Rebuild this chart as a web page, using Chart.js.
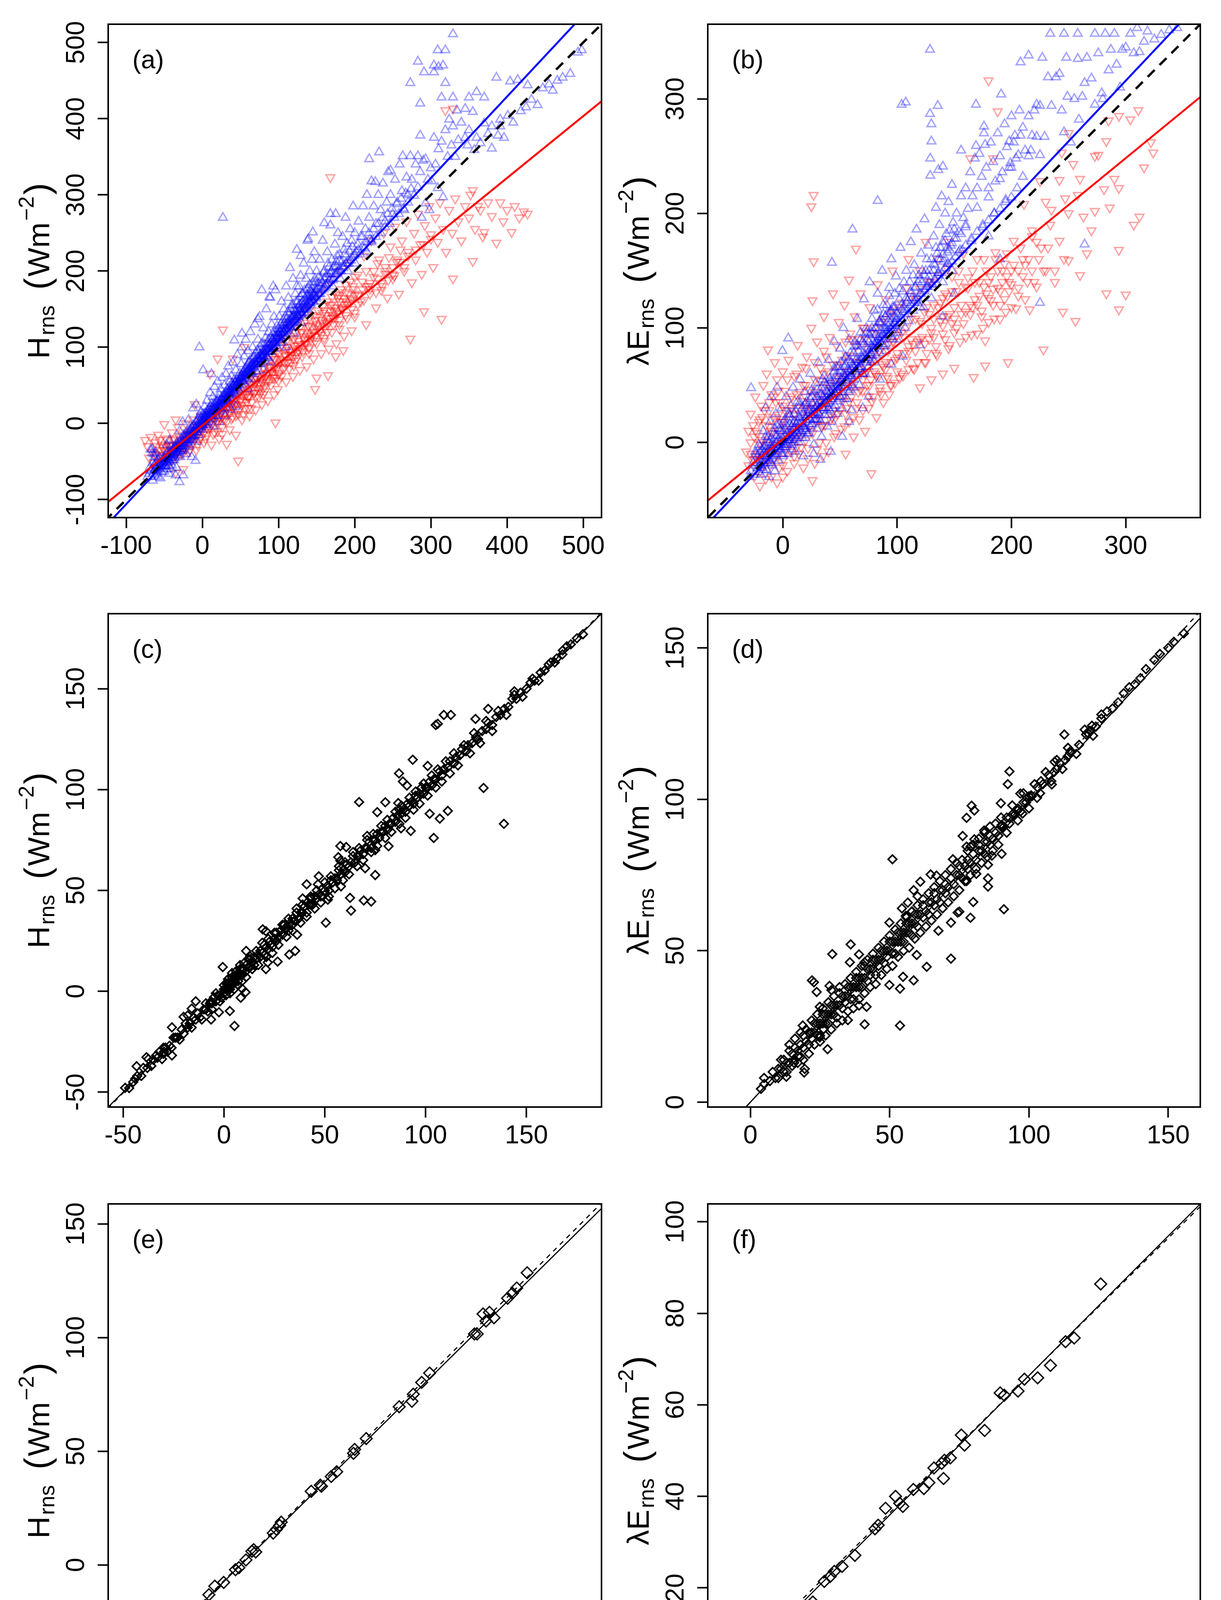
<!DOCTYPE html>
<html>
<head>
<meta charset="utf-8">
<script src="https://cdn.jsdelivr.net/npm/chart.js@4.4.0/dist/chart.umd.min.js"></script>
<style>
  body { margin: 0; background: #fff; }
  #page { position: relative; width: 3126px; height: 4604px; background: #fff; }
  canvas { position: absolute; }
</style>
</head>
<body>
<div id="page"></div>
<script>
// ---- data --------------------------------------------------------------

// (a) H, hourly: blue = up triangles, red = down triangles
const hRawBlue = [
  [-72,-70],[-68,-62],[-65,-75],[-63,-55],[-60,-66],[-58,-48],[-56,-60],[-55,-72],[-52,-52],[-50,-44],[-50,-63],[-48,-56],[-46,-38],[-45,-50],[-44,-66],[-42,-45],[-41,-30],[-40,-55],[-64,-40],[-61,-38],[-66,-34],[-43,-22],[-47,-28],
  [-38,-40],[-37,-48],[-35,-32],[-34,-58],[-33,-25],[-31,-38],[-30,-77],[-29,-44],[-28,-20],[-27,-30],[-25,-36],[-24,-15],[-22,-26],[-21,-40],[-20,-10],[-18,-22],[-17,-30],[-15,-8],[-14,-44],[-13,-18],[-12,-2],[-10,-12],[-9,-49],[-8,-24],[-7,4],[-6,-6],[-5,-15],[-4,10],[-3,-3],[-2,15],[-1,-8],[-30,-10],[-26,2],[-18,5],[-12,20],[-8,25],[-35,-68],[-68,-34],[-66,-39],[-63,-44],[-25,-68],
  [0,5],[1,-4],[2,12],[3,22],[4,0],[5,8],[6,30],[7,16],[8,-2],[9,20],[10,40],[11,12],[12,26],[13,6],[14,35],[15,18],[16,48],[17,25],[18,10],[19,30],[20,55],[21,22],[22,38],[23,16],[24,45],[25,30],[26,60],[27,35],[28,20],[29,50],[30,38],[31,65],[32,28],[33,45],[34,75],[35,40],[36,55],[37,32],[38,62],[39,48],[40,80],[41,42],[42,58],[43,38],[44,70],[45,50],[46,90],[47,55],[48,44],[49,66],[1,70],[-4,100],[12,65],[27,270],[38,18],[44,22],[30,10],[22,2],[15,-4],
  [50,60],[51,78],[52,100],[53,55],[54,68],[55,88],[56,62],[57,110],[58,72],[59,58],[60,95],[61,70],[62,82],[63,120],[64,66],[65,78],[66,100],[67,74],[68,88],[69,130],[70,80],[71,68],[72,96],[73,110],[74,84],[75,140],[76,90],[77,78],[78,105],[79,88],[80,125],[81,96],[82,82],[83,112],[84,150],[85,98],[86,86],[87,120],[88,104],[89,165],[90,94],[91,130],[92,110],[93,100],[94,140],[95,115],[96,175],[97,106],[98,128],[99,118],[93,180],[78,175],[88,166],[73,137],[52,118],[42,109],[60,45],[70,58],[80,70],[90,80],
  [100,112],[101,140],[102,120],[103,106],[104,160],[105,128],[106,115],[107,150],[108,132],[109,122],[110,180],[111,138],[112,126],[113,165],[114,144],[115,204],[116,130],[117,155],[118,140],[119,190],[120,150],[121,136],[122,170],[123,148],[124,228],[125,160],[126,142],[127,180],[128,156],[129,194],[130,145],[131,170],[132,160],[133,210],[134,175],[135,152],[136,190],[137,168],[138,240],[139,178],[140,160],[141,200],[142,175],[143,165],[144,215],[145,185],[146,170],[147,225],[148,190],[149,175],[145,251],[139,242],[129,220],[124,180],[110,100],[120,118],[130,132],
  [150,200],[152,178],[154,215],[156,188],[158,240],[160,200],[162,182],[164,225],[166,205],[168,260],[168,275],[170,215],[172,190],[174,235],[176,212],[178,250],[180,222],[182,200],[184,245],[186,228],[188,270],[190,236],[192,210],[194,255],[196,240],[198,285],[200,250],[175,275],[160,263],
  [202,225],[205,265],[208,245],[211,285],[214,255],[216,300],[219,270],[219,347],[222,240],[222,318],[225,285],[227,317],[228,262],[231,300],[232,356],[234,280],[237,315],[240,265],[242,290],[244,330],[247,300],[247,332],[250,275],[253,320],[256,290],[259,340],[262,305],[263,351],[265,280],[268,323],[270,300],[273,351],[275,320],[278,299],[280,340],[283,310],[283,351],[286,330],[288,270],[290,345],[293,289],[293,347],[296,320],[298,280],[300,335],
  [301,318],[304,375],[306,340],[309,309],[310,360],[314,370],[316,297],[319,385],[322,350],[324,399],[327,365],[329,390],[332,350],[334,411],[336,372],[340,395],[345,413],[345,375],[348,365],[350,385],[350,428],[355,409],[357,359],[360,375],[360,435],[365,368],[370,394],[370,428],[375,380],[380,390],[380,361],[386,454],[388,378],[391,399],[391,390],[396,375],[401,404],[404,449],[408,395],[414,451],[418,410],[425,415],[427,444],[432,425],[440,418],[447,440],[455,445],[460,437],[466,450],[473,454],[483,459],[493,487],[498,490],[286,420],[283,475],[273,447],[291,461],[304,461],[304,470],[310,468],[316,470],[309,490],[319,490],[329,511],[314,428],[319,447],[329,428],[286,378],
  [-70,-66],[-69,-58],[-67,-70],[-66,-60],[-65,-52],[-64,-64],[-62,-68],[-61,-58],[-60,-50],[-59,-62],[-58,-70],[-57,-55],[-56,-45],[-54,-58],[-53,-64],[-52,-46],[-51,-56],[-49,-50],[-48,-42],[-47,-60],[-46,-52],[-45,-44],[-44,-56],[-43,-38],[-42,-50],[-41,-60],[-40,-42],[-39,-48],[-38,-34],
  [-37,-40],[-36,-30],[-36,-45],[-34,-38],[-33,-28],[-32,-42],[-31,-32],[-30,-24],[-29,-36],[-28,-30],[-27,-22],[-26,-34],[-25,-26],[-24,-20],[-23,-30],[-22,-18],[-21,-25],[-20,-14],[-19,-28],[-18,-16],[-17,-8],[-16,-20],[-15,-14],[-14,-6],[-13,-22],[-12,-10],[-11,-4],[-10,-16],[-9,-6],[-8,2],[-7,-12],[-6,-2],[-5,6],[-4,-8],[-3,4],[-2,-4],[-1,8],[-1,-2],
  [0,12],[1,2],[2,6],[3,10],[4,14],[5,2],[6,12],[7,8],[8,18],[9,10],[10,16],[11,22],[12,14],[13,20],[14,10],[15,26],[16,16],[17,20],[18,28],[19,18],[20,24],[21,32],[22,22],[23,28],[24,20],[25,34],[26,26],[27,30],[28,38],[29,26],[30,32],[31,40],[32,34],[33,30],[34,42],[35,48],[36,36],[37,44],[38,40],[39,52],[40,44],[41,50],[42,40],[43,54],[44,48],[45,58],[46,46],[47,52],[48,60],[49,50],
  [50,54],[51,62],[52,58],[53,66],[54,56],[55,64],[56,72],[57,60],[58,68],[59,76],[60,64],[61,80],[62,70],[63,74],[64,84],[65,68],[66,78],[67,86],[68,74],[69,82],[70,92],[71,78],[72,86],[73,80],[74,94],[75,84],[76,100],[77,88],[78,84],[79,96],[80,90],[81,104],[82,92],[83,98],[84,88],[85,106],[86,96],[87,110],[88,98],[89,94],[90,112],[91,102],[92,118],[93,106],[94,98],[95,120],[96,108],[97,114],[98,102],[99,124],
  [100,116],[101,124],[102,110],[103,130],[104,118],[105,122],[106,136],[107,120],[108,128],[109,140],[110,124],[111,132],[112,146],[113,130],[114,136],[115,128],[116,150],[117,138],[118,132],[119,156],[120,142],[121,148],[122,134],[123,160],[124,146],[125,140],[126,154],[127,148],[128,166],[129,150],[130,158],[131,144],[132,170],[133,156],[134,150],[135,164],[136,160],[137,176],[138,154],[139,168],[140,162],[141,182],[142,158],[143,172],[144,166],[145,160],[146,180],[147,168],[148,186],[149,164],
  [151,176],[153,192],[155,170],[157,184],[159,198],[161,178],[163,192],[165,210],[167,188],[169,200],[171,180],[173,206],[175,196],[177,220],[179,200],[181,190],[183,212],[185,204],[187,222],[189,210],[191,200],[193,226],[195,214],[197,232],[199,220],[201,210],[204,235],[207,222],[210,245],[213,230],[216,225],[219,250],[222,238],[225,255],[228,245],[231,262],[234,250],[237,270],[240,258],[243,275],[246,262],[249,282],[252,270],[255,288],[258,275],[261,295],[264,282],[267,302],[270,290],[274,308],
  [-62,-60],[-58,-58],[-55,-54],[-52,-50],[-49,-47],[-46,-46],[-44,-48],[-42,-40],[-40,-36],[-38,-42],[-36,-38],[-34,-32],[-32,-36],[-30,-30],[-28,-26],[-26,-28],[-24,-24],[-22,-22],[-20,-18],[-18,-20],[-16,-14],[-14,-16],[-12,-12],[-10,-8],[-8,-10],[-6,-4],[-4,-6],[-2,0],[0,-2],[2,4],[4,2],[6,8],[8,6],[10,12],[12,10],[14,18],[16,14],[18,22],[20,18],[22,26],[24,24],[26,30],[28,28],[30,34],[32,32],[34,38],[36,40],[38,42],[40,46],[42,46],[44,50],[46,52],[48,54],[50,58],[52,56],[54,62],[56,60],[58,66],[60,68],[62,66],[64,72],[66,72],[68,76],[70,78],[72,78],[74,82],[76,84],[78,88],[80,88],[82,92],[84,94],[86,94],[88,100],[90,100],[92,104],[94,106],[96,104],[98,112],[100,110],
  [102,114],[104,112],[106,120],[108,118],[110,124],[112,122],[114,128],[116,126],[118,134],[120,132],[122,138],[124,136],[126,140],[128,144],[130,142],[132,150],[134,146],[136,152],[138,150],[140,158],[142,156],[144,162],[146,160],[148,168],[150,166],[153,170],[156,174],[159,176],[162,182],[165,184],[168,190],[171,188],[174,196],[177,198],[180,202],[184,206],[188,210],[192,214],[196,218],[200,222],[205,228],[210,232],[215,238],[220,242],
  [-60,-56],[-56,-52],[-52,-56],[-48,-48],[-44,-42],[-40,-44],[-36,-34],[-32,-30],[-28,-34],[-24,-18],[-20,-22],[-16,-10],[-12,-16],[-8,-4],[-4,-2],[0,4],[4,8],[8,14],[12,18],[16,20],[20,28],[24,30],[28,34],[32,40],[36,44],[40,50],[44,54],[48,56],[52,62],[56,66],[60,72],[64,76],[68,80],[72,84],[76,90],[80,94],[84,100],[88,104],[92,110],[96,114],[100,118],[104,124],[108,124],[112,132],[116,134],[120,140],[124,142],[128,150],[132,154],[136,156],[140,166],[144,170],[148,172],[152,184],[156,180],[160,190],[164,196],[168,196],[172,204],[176,206],[180,214]
];
const hRawRed = [
  [-75,-22],[-72,-30],[-70,-45],[-68,-18],[-66,-38],[-64,-52],[-62,-25],[-60,-42],[-58,-15],[-56,-35],[-55,-55],[-53,-28],[-51,-45],[-50,-1],[-48,-20],[-46,-40],[-44,-30],[-42,-52],[-40,-12],[-38,-35],[-36,-22],[-34,-45],[-32,-5],[-30,-28],[-28,-40],[-26,-15],[-24,-32],[-22,0],[-20,-22],[-18,-38],[-16,-10],[-14,-28],[-12,5],[-10,-15],[-8,-35],[-6,-5],[-4,-22],[-2,10],[0,-8],[2,-25],[-35,-65],[-25,-60],
  [4,5],[6,-15],[8,12],[10,-5],[12,-28],[14,8],[16,-12],[18,20],[20,0],[22,-20],[24,15],[26,-5],[27,123],[28,25],[30,5],[32,-27],[33,18],[35,35],[36,-8],[38,22],[40,8],[42,40],[44,-15],[45,25],[47,-49],[47,12],[48,50],[50,30],[52,5],[54,45],[56,20],[58,60],[60,35],[62,10],[64,52],[65,28],[67,70],[68,40],[70,18],[72,58],[74,35],[75,82],[77,50],[78,25],[80,65],[82,42],[84,95],[85,58],[86,30],[88,75],[90,50],[91,105],[92,66],[94,38],[95,85],[96,1],[97,60],[98,112],[99,45],[100,78],[20,85],[10,65],[40,85],[55,100],[-10,25],[-35,5],
  [102,92],[104,62],[106,118],[108,80],[110,55],[112,100],[114,72],[115,130],[117,90],[119,62],[120,110],[122,82],[124,140],[126,96],[128,70],[130,120],[131,88],[133,150],[135,105],[137,75],[139,128],[140,98],[142,160],[144,115],[146,85],[148,135],[150,105],[150,60],[152,170],[154,122],[156,92],[158,145],[160,112],[162,180],[164,130],[166,98],[168,155],[168,323],[170,120],[172,190],[174,140],[176,105],[178,165],[180,130],[182,200],[184,150],[186,115],[188,172],[190,138],[192,210],[194,158],[196,122],[198,180],[200,145],[165,63],[175,88],[185,96],[148,45],
  [204,195],[208,160],[212,220],[215,130],[218,180],[222,240],[225,200],[228,152],[232,215],[235,175],[238,250],[240,205],[243,165],[247,232],[250,190],[253,258],[256,215],[258,170],[262,240],[265,200],[268,265],[270,225],[273,111],[275,185],[278,250],[280,215],[283,275],[286,235],[288,196],[291,147],[292,260],[295,225],[298,285],[300,248],[303,205],[306,270],[309,238],[312,290],[314,137],[316,255],[319,411],[320,225],[324,280],[328,250],[329,190],[329,413],[332,295],[336,265],[340,240],[345,285],[350,270],[352,300],[355,306],[355,213],[358,255],[362,285],[365,280],[368,245],[370,251],[375,290],[380,272],[386,237],[391,290],[395,265],[400,280],[406,251],[410,285],[416,270],[422,278],[427,275],
  [-62,-40],[-60,-30],[-58,-50],[-56,-22],[-54,-42],[-52,-32],[-50,-52],[-48,-30],[-46,-22],[-44,-44],[-42,-28],[-40,-38],[-38,-20],[-36,-42],[-34,-28],[-32,-36],[-30,-18],[-28,-30],[-26,-40],[-24,-22],[-22,-34],[-20,-12],[-18,-26],[-16,-34],[-14,-16],[-12,-24],[-10,-4],[-8,-18],[-6,-28],[-4,-10],[-2,-18],[0,2],[2,-12],[4,-20],[6,4],[8,-8],[10,10],[12,-2],[14,-14],[16,14],[18,2],[20,-10],[22,18],[24,6],[26,-14],[28,12],[30,22],[32,2],[34,14],[36,28],[38,6],[40,20],[42,30],[44,10],[46,36],[48,18],[50,42],[52,24],[54,12],[56,38],[58,28],[60,50],[62,36],[64,20],[66,48],[68,58],[70,34],[72,46],[74,62],[76,40],[78,54],[80,72],[82,48],[84,64],[86,82],[88,56],[90,70],[92,88],[94,60],[96,76],[98,94],[100,66],
  [102,84],[104,102],[106,72],[108,90],[110,108],[112,80],[114,96],[116,114],[118,86],[120,102],[122,120],[124,92],[126,108],[128,126],[130,98],[132,114],[134,132],[136,104],[138,118],[140,138],[142,110],[144,126],[146,142],[148,114],[150,130],[152,148],[154,120],[156,136],[158,154],[160,126],[162,142],[164,160],[166,132],[168,148],[170,166],[172,138],[174,152],[176,170],[178,144],[180,160],[182,176],[184,150],[186,164],[188,182],[190,156],[192,170],[194,186],[196,162],[198,176],[200,192],[205,168],[210,186],[215,200],[220,176],[225,192],[230,210],[235,184],[240,200],[245,218],[250,196],[255,212],[260,228],[265,205],
  [-50,-36],[-46,-44],[-42,-34],[-38,-30],[-34,-38],[-30,-24],[-26,-30],[-22,-20],[-18,-14],[-14,-20],[-10,-10],[-6,-14],[-2,-6],[2,-2],[6,-6],[10,2],[14,6],[18,10],[22,8],[26,16],[30,14],[34,22],[38,26],[42,24],[46,32],[50,30],[54,40],[58,38],[62,46],[66,44],[70,54],[74,52],[78,60],[82,60],[86,66],[90,68],[94,74],[98,72],[102,80],[106,82],[110,88],[114,90],[118,94],[122,98],[126,102],[130,104],[134,110],[138,112],[142,116],[146,120],[150,124],[154,128],[158,132],[162,134],[166,138],[170,142],[174,146],[178,148],[182,152],[186,156],[190,160],[195,164],[200,168],[205,170],[210,176],[215,180],[220,184],[230,190],[240,196],[250,205],[260,212],[270,220],[280,228],[290,235],[300,242],[44,56],[56,64],[68,78],[80,90],[92,100],[104,112],[116,124],[128,136],[140,148],[60,20],[80,38],[100,56],[120,76],[140,92],[160,108],[180,124],[200,140],
  [20,4],[28,6],[36,14],[44,18],[52,28],[60,34],[68,40],[76,46],[84,54],[92,60],[100,64],[108,74],[116,80],[124,86],[132,94],[140,100],[148,108],[156,116],[164,120],[172,130],[180,136],[188,142],[196,150],[204,156],[212,162],[220,170],[228,172],[236,180],[244,188],[252,194],[30,26],[40,34],[50,44],[60,56],[70,62],[80,74],[90,84],[100,92],[110,100],[120,112],[130,120],[140,128],[150,140],[160,148],[170,156],[180,168]
];

// (b) LE, hourly
const leRawBlue = [
  [-28,-25],[-26,-18],[-25,-28],[-24,-10],[-22,-22],[-21,-2],[-20,-15],[-19,-28],[-18,-6],[-17,10],[-16,-18],[-15,-3],[-14,-24],[-13,5],[-12,-12],[-11,18],[-10,-5],[-9,-20],[-8,8],[-7,-10],[-6,25],[-5,0],[-4,-16],[-3,12],[-2,-6],[-1,30],[0,4],[0,-12],[1,18],[2,-4],[3,40],[4,8],[5,-10],[5,22],[6,2],[7,32],[8,-6],[8,14],[9,48],[10,6],[10,25],[11,-8],[12,16],[13,36],[14,0],[15,22],[15,55],[16,8],[17,30],[18,-12],[18,14],[19,44],[20,20],[20,4],[-27.7,47.6],[-15,30],[-10,40],[-5,48],[4.8,91],[-0.3,80],[-24,-8],[-29,-30],[-12,-30],[-7,-25],
  [21,36],[22,8],[23,28],[24,60],[25,16],[26,40],[27,-2],[28,24],[29,52],[30,32],[30,12],[31,70],[32,20],[33,42],[34,5],[35,30],[36,58],[37,24],[38,45],[39,14],[40,36],[40,72],[41,28],[42,52],[43,18],[44,40],[45,88],[45,62],[46,32],[47,48],[48,25],[49,66],[50,40],[50,82],[51,55],[52,30],[53,100],[54,48],[55,68],[56,38],[57,58],[58,90],[59,46],[60,70],[43,157],[27,-10],[33,-15],[42,-8],[52,5],[58,18],[60,28],
  [61,186],[62,55],[63,84],[64,62],[65,108],[66,72],[67,50],[68,90],[69,66],[70,78],[71,125],[72,60],[73,96],[74,74],[75,88],[76,140],[77,70],[78,100],[79,82],[80,115],[81,94],[82,76],[83,211],[83,130],[84,105],[85,88],[86,98],[87,150],[88,112],[89,84],[90,100],[91,120],[92,95],[93,135],[94,108],[95,160],[96,90],[97,118],[98,104],[99,145],[100,112],[101,96],[102,125],[103,170],[104,108],[105,132],[106,118],[107,100],[108,150],[109,124],[110,112],[75,40],[85,55],[95,68],[70,30],[105,75],
  [111,140],[112,175],[113,126],[114,115],[115,155],[116,135],[117,186],[118,122],[119,146],[120,130],[121,165],[122,140],[123,118],[124,195],[125,150],[126,136],[127,172],[128,145],[129,233],[129,248],[130,160],[130,263],[130,278],[131,138],[132,180],[133,155],[134,205],[135,165],[136,238],[136,148],[137,190],[138,170],[139,215],[140,241],[140,175],[141,158],[142,200],[143,182],[144,166],[145,210],[146,185],[147,172],[148,225],[149,192],[150,178],[152,200],[154,184],[156,255],[156,215],[158,196],[160,222],[128.8,287],[135.6,294],[104,295],[107.5,297],[128.8,343],[120,85],[140,110],[150,130],
  [162,204],[164,236],[166,215],[168,248],[169,259],[169,295],[170,222],[172,252],[174,232],[176,270],[176,276],[177,260],[178,240],[180,214],[182,262],[184,245],[186,228],[188,270],[190,250],[191,304],[192,236],[194,278],[196,258],[198,240],[198,263],[199,244],[200,285],[202,262],[203,268],[204,248],[206,251],[207,290],[208,268],[208,332],[210,275],[212,255],[215,338],[215,285],[217,255],[218,268],[220,290],[222,295],[222,267],[225,294],[225,251],[227,336],[229,267],[232,319],[234,357],[235,294],[239,319],[242,322],[244,290],[246,271],[246,357],[248,336],[249,302],[252,262],[225,122],[190,160],[180,180],
  [255,300],[258,335],[258,357],[259,282],[262,302],[264,314],[266,336],[270,318],[273,295],[273,357],[276,340],[279,305],[282,357],[285,325],[287,343],[290,357],[292,330],[297,343],[300,345],[304,357],[307,340],[310,362],[312,341],[316,350],[319,359],[325,352],[331,356],[338,360],[345,362],[264,173],[280,300],[295,310],
  [-22,-18],[-21,-26],[-20,-8],[-19,-20],[-18,-12],[-17,-24],[-16,-4],[-15,-14],[-14,-6],[-13,-18],[-12,0],[-11,-10],[-10,4],[-9,-14],[-8,-2],[-7,12],[-6,-8],[-5,6],[-4,-4],[-3,16],[-2,2],[-1,-10],[0,10],[1,0],[2,20],[3,-2],[4,14],[5,4],[6,24],[7,6],[8,-2],[9,16],[10,2],[11,28],[12,8],[13,18],[14,6],[15,32],[16,16],[17,4],[18,24],[19,12],[20,34],[21,18],[22,28],[23,8],[24,38],[25,24],[26,16],[27,44],[28,30],[29,20],[30,46],[31,26],[32,36],[33,18],[34,48],[35,40],[36,28],[37,52],[38,34],[39,44],[40,24],[41,56],[42,38],[43,48],[44,30],[45,54],[46,42],[47,66],[48,36],[49,58],[50,46],
  [51,70],[52,44],[53,60],[54,38],[55,74],[56,52],[57,64],[58,44],[59,78],[60,56],[61,68],[62,48],[63,88],[64,72],[65,58],[66,80],[67,64],[68,96],[69,74],[70,60],[71,86],[72,70],[73,100],[74,82],[75,66],[76,94],[77,78],[78,108],[79,88],[80,72],[81,100],[82,86],[83,116],[84,92],[85,78],[86,108],[87,94],[88,120],[89,100],[90,86],[91,112],[92,102],[93,128],[94,104],[95,92],[96,118],[97,110],[98,130],[99,108],[100,98],
  [102,134],[104,116],[106,140],[108,122],[110,106],[112,130],[114,146],[116,124],[118,140],[120,118],[122,150],[124,134],[126,160],[128,140],[130,126],[132,150],[134,170],[136,148],[138,160],[140,140],[142,176],[144,156],[146,168],[148,150],[150,186],[155,168],[160,190],[165,176],[170,205],[175,190],[180,222],[185,200],[190,230],[195,212],[200,240],[205,222],[210,232],[215,250],
  [-20,-20],[-18,-16],[-16,-12],[-14,-10],[-12,-6],[-10,-8],[-8,-4],[-6,0],[-4,2],[-2,-2],[0,0],[2,6],[4,2],[6,8],[8,10],[10,12],[12,10],[14,16],[16,18],[18,14],[20,22],[22,24],[24,20],[26,28],[28,26],[30,32],[32,30],[34,36],[36,34],[38,40],[40,42],[42,44],[44,46],[46,48],[48,50],[50,52],[52,56],[54,58],[56,60],[58,62],[60,64],[62,66],[64,68],[66,70],[68,72],[70,74],[72,76],[74,78],[76,80],[78,84],[80,86],[82,88],[84,90],[86,92],[88,94],[90,96],[92,98],[94,100],[96,102],[98,104],[100,108],
  [103,110],[106,114],[109,116],[112,120],[115,122],[118,126],[121,130],[124,132],[127,136],[130,138],[133,142],[136,146],[139,148],[142,152],[145,156],[148,158],[151,162],[154,166],[157,168],[160,172],[165,178],[170,184],[175,188],[180,194],[185,200],[190,204],[195,210],[200,214],[-15,5],[-5,15],[5,25],[15,35],[25,45],[35,55],[45,65],[55,75],[65,85],[75,95],[85,105],[95,115],[-10,-18],[0,-10],[10,0],[20,10],[30,20],[40,30],[50,40],[60,50],[70,60],[80,70],[90,80],[100,90],
  [-24,-20],[-22,-12],[-20,-4],[-18,-22],[-16,-8],[-14,2],[-12,-16],[-10,-2],[-8,-12],[-6,6],[-4,-6],[-2,10],[0,-4],[2,12],[4,-2],[6,16],[8,2],[10,18],[12,4],[14,22],[16,10],[18,26],[20,12],[22,32],[24,14],[26,34],[28,20],[30,40],[32,24],[34,42],[36,30],[38,50],[40,34],[42,54],[44,38],[46,58],[48,44],[50,62],[52,48],[54,66],[56,54],[58,72],[60,58],[62,78],[64,60],[66,84],[68,66],[70,88],[72,72],[74,90],[76,76],[78,96],[80,82],[82,100],[84,86],[86,104],[88,90],[90,110],[92,94],[94,114],[96,100],[98,118],[100,102],[104,120],[108,126],[112,132],[116,136],[120,142],[124,146],[128,150],[132,156],[136,160],[140,164],[144,170],[148,174],[152,178],[156,182],[160,188]
];
const leRawRed = [
  [-32,-8],[-30,10],[-28,25],[-27,-15],[-25,5],[-24,40],[-22,-10],[-21,18],[-20,-25],[-19,32],[-18,2],[-17,50],[-16,-12],[-15,15],[-14,60],[-13,81],[-13,-2],[-12,28],[-11,-20],[-10,42],[-9,8],[-8,-15],[-7,70],[-7,22],[-6,-5],[-5,55],[-4,10],[-3,-22],[-2,35],[-1,0],[0,62],[0,18],[1,-14],[2,45],[3,6],[4,-25],[4,28],[5,72],[6,12],[7,-8],[8,40],[9,20],[10,-18],[10,58],[11,4],[12,30],[13,85],[14,-10],[15,44],[16,12],[17,66],[18,-22],[19,28],[20,50],[20,2],[-25,-30],[-20,-38],[-15,-32],[-10,-30],[-5,-35],[0,-30],
  [21,75],[22,-5],[23,35],[24,15],[25,206],[25,100],[26,124],[26,-33],[27,216],[27,158],[28,55],[28,-18],[29,20],[30,88],[31,40],[32,0],[33,65],[34,28],[35,-12],[36,110],[36,48],[37,15],[38,75],[39,35],[40,-8],[41,92],[42,52],[43,22],[44,130],[44,68],[45,5],[46,40],[47,85],[48,25],[49,105],[50,58],[51,12],[52,72],[53,40],[54,120],[55,-10],[55,88],[56,30],[57,62],[58,142],[58,18],[59,95],[60,48],[61,75],[62,5],[63,110],[64,169],[64,60],[65,35],[66,90],[67,20],[68,130],[69,70],[70,45],
  [71,100],[72,10],[73,62],[74,82],[75,30],[76,118],[77,55],[77.5,-27],[78,72],[79,40],[80,95],[81,60],[82,22],[83,138],[84,80],[85,48],[86,105],[87,68],[88,35],[89,90],[90,125],[91,58],[92,80],[93,42],[94,112],[95,70],[96,150],[97,88],[98,52],[99,100],[100,74],[102,118],[104,60],[106,92],[108,135],[110,80],[112,108],[114,65],[116,125],[118,88],[120,150],[122,104],[124,70],[126,118],[128,90],[130,140],[132,108],[134,78],[136,160],[138,122],[140,95],[142,130],[144,110],[146,85],[148,145],[150,118],[150,65],[140,60],[130,55],[120,48],[125,175],[110,160],[145,175],
  [152,100],[154,140],[156,120],[158,165],[160,92],[162,135],[164,248],[164,112],[166,150],[167,57],[168,125],[170,95],[172,140],[174,115],[176,160],[177,89],[177,67],[178,130],[180,316],[180,105],[182,145],[184,248],[184,120],[186,160],[188,289],[188,135],[190,108],[192,150],[194,125],[196,165],[197,70],[198,140],[200,118],[202,155],[204,117],[206,135],[208,170],[210,145],[211,208],[212,125],[215,160],[216,116],[218,185],[220,140],[222,175],[225,228],[228,81],[228,150],[230,210],[232,170],[235,203],[238,150],[242,229],[244,253],[245,114],[247,213],[250,159],[254,243],[256,106],[258,216],[260,146],[263,197],[266,165],[270,185],[273,202],[276,251],[281,221],[283,263],[283,130],[285,281],[286,205],[290,230],[294,222],[294,168],[294,116],[294,285],[300,129],[304,282],[307,190],[311,290],[312,197],[316,240],[322,262],[324,253],[273,250],[250,270],[260,230],
  [-30,-20],[-28,0],[-26,15],[-24,-12],[-22,8],[-20,-2],[-18,22],[-16,-20],[-14,5],[-12,-8],[-10,20],[-8,-2],[-6,35],[-4,-12],[-2,18],[0,-20],[2,28],[4,-6],[6,38],[8,4],[10,-12],[12,42],[14,14],[16,-4],[18,50],[20,22],[22,-14],[24,46],[26,8],[28,30],[30,-6],[32,54],[34,14],[36,36],[38,0],[40,62],[42,20],[44,44],[46,8],[48,68],[50,28],[52,50],[54,14],[56,76],[58,36],[60,58],[62,22],[64,84],[66,44],[68,64],[70,28],[72,90],[74,50],[76,72],[78,36],[80,100],[82,58],[84,80],[86,42],[88,108],[90,64],[92,86],[94,50],[96,115],[98,72],[100,94],
  [102,56],[104,122],[106,78],[108,100],[110,64],[112,128],[114,86],[116,108],[118,70],[120,134],[122,92],[124,114],[126,78],[128,140],[130,100],[132,120],[134,84],[136,146],[138,106],[140,126],[142,90],[144,152],[146,112],[148,132],[150,96],[154,150],[158,104],[162,144],[166,118],[170,160],[174,110],[178,150],[182,124],[186,166],[190,120],[194,156],[198,132],[202,176],[206,128],[210,160],[214,140],[218,180],[222,136],[226,170],[230,150],[234,190],[238,140],[242,176],[246,160],[250,200],
  [-25,-15],[-20,0],[-15,-15],[-10,10],[-5,-5],[0,20],[5,0],[10,25],[15,5],[20,30],[25,10],[30,35],[35,15],[40,40],[45,20],[50,45],[55,25],[60,50],[65,30],[70,55],[75,40],[80,62],[85,45],[90,70],[95,50],[100,78],[105,58],[110,84],[115,64],[120,90],[125,70],[130,96],[135,76],[140,102],[145,82],[150,108],[155,88],[160,114],[165,94],[170,120],[175,100],[180,126],[185,108],[190,132],[195,114],[200,138],[-20,20],[-12,35],[-4,45],[4,55],[12,60],[20,65],[28,70],[36,80],[60,90],[70,100],
  [-28,-10],[-24,10],[-20,-14],[-16,28],[-12,14],[-8,40],[-4,24],[0,32],[4,10],[8,30],[12,-4],[16,36],[20,40],[24,30],[28,44],[32,20],[36,60],[40,50],[44,28],[48,56],[52,36],[56,62],[60,40],[64,70],[68,46],[72,60],[76,50],[80,80],[84,58],[88,66],[92,56],[96,88],[100,62],[104,96],[108,72],[112,90],[116,80],[120,106],[124,86],[128,112],[132,92],[136,118],[140,110],[144,128],[148,104],[152,132],[156,112],[160,136],[164,120],[168,140],[172,128],[176,136],[180,140],[184,134],[188,150],[192,140],[196,145],[200,150],[206,150],[212,155],[218,150],[224,160]
];

// (c) H, daily
const hDaily = [
  [-47,-48],[-45,-45],[-43,-42],[-41,-42],[-40,-38],[-38,-38],[-36,-37],[-35,-34],[-33,-33],[-32,-30],[-30,-31],[-29,-28],[-27,-27],[-26,-28],[-24,-23],[-23,-23],[-21,-19],[-20,-21],[-18,-18],[-17,-16],[-16,-18],[-14,-14],[-13,-11],[-12,-13],[-10,-9],[-9,-9],[-8,-10],[-7,-6],[-6,-6],[-5,-3],[-4,-5],[-3,-2],[-2,-2],[-1,-3],[0,1],[0,-1],[1,4],[1,1],[2,1],[2,4],[3,4],[3,1],[4,4],[4,7],[5,6],[5,4],[6,8],[6,6],[7,5],[7,8],[8,11],[8,8],[9,8],[9,11],[10,11],[11,10],[11,13],[12,12],[13,16],[13,12],[14,15],[15,13],[15,17],[16,16],[17,18],[18,17],[18,20],[19,19],[20,23],[20,18],[21,22],[22,21],[23,25],[23,23],[24,22],[25,26],[26,29],[26,25],[27,27],[28,30],[29,28],[30,31],[30,33],[31,31],[32,30],[33,34],[34,36],[34,33],[35,35],[36,39],[37,36],[38,39],[39,39],[40,42],[41,39],[42,43],[43,46],[43,43],[44,43],[45,47],[46,46],[47,48],[48,47],[49,51],[50,50],[51,52],[52,50],[53,55],[54,54],[55,56],[56,55],[57,60],[58,58],[59,60],[60,59],[61,63],[62,62],[63,64],[64,67],[65,64],[66,67],[67,67],[68,70],[69,68],[70,71],[71,71],[72,74],[73,71],[74,75],[75,75],[76,78],[77,76],[78,79],[79,79],[80,82],[81,80],[82,83],[83,83],[84,86],[85,84],[86,87],[87,90],[88,88],[89,90],[90,89],[91,93],[92,92],[93,94],[94,93],[95,97],[96,96],[97,98],[98,101],[99,98],[100,101],[101,101],[102,104],[103,102],[104,105],[105,105],[107,109],[108,107],[109,110],[111,111],[112,114],[114,113],[115,116],[117,117],[118,120],[120,119],[121,122],[123,123],[125,126],[126,125],[128,129],[130,130],[131,133],[133,132],[135,136],[137,137],[139,140],[141,141],[143,145],[145,145],[147,148],[150,150],[152,153],[154,154],[157,158],[159,159],[162,163],[165,165],[168,169],[172,172],
  [-30,-28],[-28,-30],[-25,-23],[-22,-24],[-19,-16],[-15,-13],[-11,-14],[-9,-6],[-6,-9],[-4,-1],[-2,-5],[0,3],[1,-2],[2,6],[3,-1],[4,9],[5,1],[6,10],[7,3],[8,13],[9,5],[10,14],[11,7],[12,16],[14,11],[16,20],[17,13],[19,24],[21,17],[22,26],[24,19],[25,29],[27,23],[29,33],[31,27],[32,36],[34,30],[36,41],[38,34],[39,43],[41,37],[43,47],[45,41],[46,50],[48,44],[50,54],[52,47],[53,57],[55,51],[57,62],[59,55],[60,64],[62,58],[64,69],[66,62],[67,71],[69,65],[71,75],[73,69],[74,78],[76,72],[78,82],[80,76],[81,85],[83,79],[85,89],[87,83],[88,92],[90,86],[92,96],[94,90],[95,99],[97,93],[99,103],[101,97],[103,107],[105,101],[106,110],[108,104],[110,114],[112,108],[114,118],[116,112],[119,122],[122,118],[124,128],[127,123],[130,134],[133,129],[136,139],[140,137],[144,147],[148,146],[153,155],[156,154],[161,162],[164,163],[170,171],[175,175],
  [178,177],[167.8,167],[144,148.7],[131,140],[109,137],[112.5,137],[105,132],[106,132.6],[124.7,135],[128.7,100.8],[138.8,83],[111,89.4],[104,76],[107,85.6],[102,88],[93.6,114.8],[101,111.7],[86.8,108],[88.7,104],[90.7,102],[86.4,93.3],[80,93.7],[67,93.8],[76,88.8],[92.6,79.5],[87.8,80.8],[81.6,71.9],[75,70],[71,77],[70,61],[75,57.6],[69.3,45],[73,44.5],[62.5,46.3],[63,40],[57.7,72],[60.6,71.5],[56.7,66.5],[57.7,64.7],[47,57],[41,53],[46.6,53],[51.5,45.4],[50.5,34],[58,52],[39,46],[32.4,18.2],[35.3,20],[36.3,28],[26,25],[20.8,29.8],[26.6,14.7],[21.7,14.3],[20.8,11],[19.2,30.7],[11,20],[13,17.3],[9,1.3],[10.7,-0.5],[8.3,-3.2],[-0.6,12],[-2.5,-10.4],[2.9,-9.8],[-6.4,-14],[5.2,-17.2],[-6.4,-5],[-14,-5],[-16,-8.6],[-18,-12],[-20,-12.7],[-25.8,-17.9],[-25.8,-31.8],[-29.7,-30],[-30.7,-33.6],[-37.5,-33.6],[-38.4,-32.7],[-43.3,-37.2],[-49,-47.9],[-44,-43.4],[-33.6,-31.8]
];

// (d) LE, daily
const leDaily = [
  [5,6],[7,7],[8,10],[9,8],[10,11],[11,11],[12,10],[12,14],[13,13],[14,13],[14,17],[15,16],[16,14],[16,18],[17,17],[18,15],[18,19],[19,22],[19,18],[20,20],[21,23],[21,19],[22,23],[22,21],[23,26],[23,23],[24,22],[24,26],[25,26],[25,22],[26,26],[26,29],[27,26],[27,29],[28,29],[28,26],[29,29],[29,32],[30,29],[30,32],[31,32],[31,28],[32,32],[32,36],[33,31],[33,35],[34,35],[34,33],[35,38],[35,35],[36,34],[36,38],[37,38],[37,34],[38,38],[38,41],[39,38],[39,41],[40,41],[40,38],[41,41],[41,45],[42,40],[42,44],[43,44],[43,42],[44,47],[44,44],[45,42],[45,47],[46,47],[46,45],[47,47],[47,50],[48,46],[48,50],[49,50],[49,48],[50,50],[50,53],[51,49],[51,53],[52,53],[52,49],[53,53],[53,56],[54,53],[54,56],[55,56],[55,53],[56,56],[56,59],[57,56],[57,59],[58,59],[58,55],[59,59],[59,62],[60,58],[60,62],[61,62],[62,61],[62,65],[63,63],[64,66],[64,62],[65,66],[66,65],[66,69],[67,67],[68,70],[68,66],[69,70],[70,69],[70,72],[71,71],[72,74],[73,72],[74,75],[75,75],[75,78],[76,74],[77,78],[78,77],[78,80],[79,79],[80,82],[81,80],[82,83],[82,85],[83,83],[84,82],[84,86],[85,86],[86,85],[86,88],[87,87],[88,89],[89,88],[90,91],[91,91],[92,94],[93,92],[94,95],[95,95],[96,97],[97,96],[98,99],[99,99],[100,101],[101,101],[103,104],[105,105],[107,108],[109,109],[111,112],[113,113],[115,116],[118,118],[121,122],[124,124],[128,129],[132,132],[136,137],[140,140],[145,146],[150,150],
  [10,8],[11,14],[13,10],[14,19],[15,12],[16,21],[17,13],[18,23],[19,14],[20,24],[21,16],[22,27],[23,19],[24,29],[25,20],[26,31],[27,22],[28,33],[29,24],[30,35],[31,26],[32,38],[33,27],[34,39],[35,30],[36,41],[37,31],[38,43],[39,34],[40,45],[41,36],[42,47],[43,38],[44,49],[45,39],[46,51],[47,42],[48,53],[49,44],[50,55],[51,45],[52,57],[53,48],[54,59],[55,50],[56,61],[57,51],[58,63],[59,54],[60,65],[61,56],[62,67],[63,58],[64,69],[65,60],[66,71],[67,62],[68,73],[69,64],[70,75],[71,66],[72,77],[73,68],[74,79],[75,70],[76,80],[77,73],[78,83],[79,75],[80,85],[81,77],[82,87],[83,79],[84,89],[85,81],[86,91],[87,83],[88,92],[89,85],[90,94],[92,89],[94,98],[96,93],[98,102],[100,97],[102,105],[104,102],[106,109],[108,106],[110,113],[112,110],[114,117],[117,115],[120,123],[123,121],[126,128],[130,130],[134,135],[138,138],[142,143],[147,148],[152,152],
  [155.6,154.8],[126,126.7],[122.6,124.3],[120.5,121.4],[121.9,122.6],[112.7,121.4],[114.8,115.4],[113.9,114.2],[109.2,112.4],[109.9,110],[108.2,104.9],[104.3,106],[102.9,100.5],[99.4,100.5],[100.8,101.3],[96.9,101.9],[93,109.2],[92.4,105],[89.9,98.7],[97.7,95.3],[95.9,96.3],[93,93.9],[90.2,91.5],[79.4,97.9],[80.4,96.3],[77.6,93.9],[83.9,89.7],[80.4,86.8],[79,84.4],[72.7,80.2],[76.2,87.9],[77.6,84.4],[85.3,78.4],[86.7,81.4],[90.2,82],[85.3,73.9],[85.3,71.2],[81.1,75.4],[77.6,73],[91,63.7],[80,66.1],[75,62.9],[74.4,62.6],[72,59.3],[79,60.9],[72,47.4],[63.3,44.7],[67.5,56.6],[61,72.8],[66.8,74.8],[64.7,75.2],[58.6,70],[60,68],[51,80.2],[56.5,65.9],[57.9,62.9],[54.4,64],[55.8,61.5],[49.9,59.3],[50.9,49.2],[59.7,48.6],[54.8,41.4],[53.7,37.5],[58.6,40.2],[49.9,38.7],[53.7,25.3],[41,25.7],[41.7,31.5],[39,31.9],[35,27.1],[36,52.1],[29.4,48.9],[35.7,46.2],[39,48.8],[41,46.2],[28.4,38.4],[29.1,37],[22.1,40.2],[22.8,39.6],[23.8,36.4],[24.9,31.5],[27.7,17.5],[18.8,25.3],[21.4,22.7],[19.5,11],[19.3,9.8],[12.9,8.4],[4.9,8],[3.8,4.4],[15.7,13],[17.1,15.2],[26.3,24.1],[24.9,21.4]
];

// (e) H, monthly
const hMonthly = [
  [-20.8,-23.6],[-13.9,-13.1],[-11.3,-9.3],[-7.4,-7.7],[-2.2,-2.1],[-0.7,-1.2],[2.4,2.2],[5.0,6.0],[5.8,6.7],[6.7,5.7],[14.4,14.0],[15.8,15.7],[17.2,17.4],[17.9,18.8],[31.1,32.4],[35.1,35.1],[35.6,34.6],[39.9,38.9],[42.3,41.0],[49.7,49.1],[50.2,50.8],[55.3,55.6],[69.8,69.6],[75.4,72.0],[76.0,75.1],[79.7,80.3],[83.2,84.4],[102.9,101.6],[104.1,101.6],[106.7,110.4],[108.0,107.3],[109.5,111.1],[111.5,108.7],[117.5,117.3],[119.6,119.5],[121.5,121.8],[126.1,128.5]
];

// (f) LE, monthly
const leMonthly = [
  [19.1,16.9],[21.6,21.4],[22.9,22.5],[23.8,23.6],[25.5,24.7],[28.3,27.1],[32.7,32.9],[33.4,33.7],[35.0,37.4],[37.2,40.0],[38.1,38.5],[38.8,37.8],[41.1,41.5],[43.4,41.7],[44.5,43.0],[45.6,46.2],[47.3,47.2],[47.9,47.9],[47.7,43.9],[49.2,48.4],[51.6,53.4],[52.3,51.2],[56.7,54.4],[60.1,62.6],[61.0,62.1],[64.0,63.0],[65.4,65.6],[68.3,65.9],[71.1,68.6],[74.4,73.8],[76.3,74.6],[82.1,86.4]
];

// tick values per panel
const ticksA = [-100, 0, 100, 200, 300, 400, 500];
const ticksB = [0, 100, 200, 300];
const ticksC = [-50, 0, 50, 100, 150];
const ticksD = [0, 50, 100, 150];
const ticksE = [-50, 0, 50, 100, 150];
const ticksF = [0, 20, 40, 60, 80, 100];

// fitted lines: [slope, intercept]
const fitA = { blue: [1.07, 1.0], red: [0.812, -2.6], oneToOne: [1, 0] };
const fitB = { blue: [1.058, -1.5], red: [0.818, 2.9], oneToOne: [1, 0] };
const fitC = { solid: [1.0, 0], dashed: [1.004, -0.2] };
const fitD = { solid: [0.99, 0], dashed: [1.004, 0] };
const fitE = { solid: [0.988, -0.1], dashed: [1.0, 0.4] };
const fitF = { solid: [1.0, 0], dashed: [0.985, 1.0] };

// ---- layout -------------------------------------------------------------
const FONT = "'Liberation Sans', Arial, Helvetica, sans-serif";
const TICK_SIZE = 66;
const TICK_LEN = 27;
const TITLE_SIZE = 78;
const SMALL_SIZE = 55;
const PAREN_SIZE = 90;

const COLS = [
  { cell: [0, 1563], area: [277, 1540] },
  { cell: [1563, 3126], area: [1812, 3073] }
];
const ROWS = [
  { cell: [0, 1500], area: [62, 1325] },
  { cell: [1500, 3040], area: [1571, 2834] },
  { cell: [3040, 4604], area: [3082, 4345] }
];

const BLUE = 'rgba(0, 0, 255, 0.36)';
const RED = 'rgba(255, 0, 0, 0.36)';

const measureCtx = document.createElement('canvas').getContext('2d');
measureCtx.font = TICK_SIZE + 'px ' + FONT;

function yTickPadding(ticks) {
  const widest = Math.max(...ticks.map(t => measureCtx.measureText(String(t)).width));
  return 80 - TICK_LEN - widest / 2;
}

function toXY(pts) {
  return pts.map(p => ({ x: p[0], y: p[1] }));
}

function pointsSet(pts, color, style, rotation, radius, width, order) {
  return {
    data: toXY(pts),
    showLine: false,
    pointStyle: style,
    rotation: rotation,
    pointRadius: radius,
    pointBorderWidth: width,
    pointBorderColor: color,
    pointBackgroundColor: 'rgba(0,0,0,0)',
    order: order,
    clip: 0
  };
}

function fitSet(coef, lim, color, width, dash, order) {
  const x0 = lim[0] - 20, x1 = lim[1] + 20;
  return {
    data: [{ x: x0, y: coef[0] * x0 + coef[1] }, { x: x1, y: coef[0] * x1 + coef[1] }],
    showLine: true,
    pointRadius: 0,
    borderColor: color,
    borderWidth: width,
    borderDash: dash,
    borderCapStyle: 'butt',
    order: order,
    clip: 0
  };
}

// label pieces: [text, size, baseline shift, gap after]
function titleParts(main, sub) {
  return [
    [main, TITLE_SIZE, 0, 4],
    [sub, SMALL_SIZE, 13, 40],
    ['(', PAREN_SIZE, 0, 4],
    ['Wm', TITLE_SIZE, 0, 4],
    ['\u22122', SMALL_SIZE, -40, 4],
    [')', PAREN_SIZE, 0, 0]
  ];
}

function drawRich(ctx, parts, x, y, vertical) {
  ctx.save();
  let total = 0;
  const widths = parts.map(p => {
    ctx.font = p[1] + 'px ' + FONT;
    const w = ctx.measureText(p[0]).width;
    total += w + p[3];
    return w;
  });
  ctx.translate(x, y);
  if (vertical) ctx.rotate(-Math.PI / 2);
  ctx.fillStyle = '#000';
  ctx.textAlign = 'left';
  ctx.textBaseline = 'alphabetic';
  let cx = -total / 2;
  parts.forEach((p, i) => {
    ctx.font = p[1] + 'px ' + FONT;
    ctx.fillText(p[0], cx, p[2]);
    cx += widths[i] + p[3];
  });
  ctx.restore();
}

const panels = [
  { row: 0, col: 0, tag: '(a)', xLim: [-123.6, 524], yLim: [-123.6, 524], ticks: ticksA,
    yTitle: titleParts('H', 'rns'), xTitle: null,
    sets: [
      pointsSet(hRawRed, RED, 'triangle', 180, 13, 3.5, 20),
      pointsSet(hRawBlue, BLUE, 'triangle', 0, 13, 3.5, 19),
      fitSet(fitA.oneToOne, [-123.6, 524], '#000', 6, [25, 18], 3),
      fitSet(fitA.blue, [-123.6, 524], '#0000ff', 5, [], 2),
      fitSet(fitA.red, [-123.6, 524], '#ff0000', 5, [], 1)
    ] },
  { row: 0, col: 1, tag: '(b)', xLim: [-65.6, 365.2], yLim: [-65.6, 365.2], ticks: ticksB,
    yTitle: titleParts('\u03bbE', 'rns'), xTitle: null,
    sets: [
      pointsSet(leRawRed, RED, 'triangle', 180, 13, 3.5, 20),
      pointsSet(leRawBlue, BLUE, 'triangle', 0, 13, 3.5, 19),
      fitSet(fitB.oneToOne, [-65.6, 365.2], '#000', 6, [25, 18], 3),
      fitSet(fitB.blue, [-65.6, 365.2], '#0000ff', 5, [], 2),
      fitSet(fitB.red, [-65.6, 365.2], '#ff0000', 5, [], 1)
    ] },
  { row: 1, col: 0, tag: '(c)', xLim: [-57.4, 187.2], yLim: [-57.4, 187.2], ticks: ticksC,
    yTitle: titleParts('H', 'rns'), xTitle: null,
    sets: [
      pointsSet(hDaily, '#000', 'rectRot', 0, 11, 4, 20),
      fitSet(fitC.dashed, [-57.4, 187.2], '#000', 3, [12, 12], 2),
      fitSet(fitC.solid, [-57.4, 187.2], '#000', 3, [], 1)
    ] },
  { row: 1, col: 1, tag: '(d)', xLim: [-15.3, 161.5], yLim: [-1.6, 161.3], ticks: ticksD,
    yTitle: titleParts('\u03bbE', 'rns'), xTitle: null,
    sets: [
      pointsSet(leDaily, '#000', 'rectRot', 0, 11, 4, 20),
      fitSet(fitD.dashed, [-15.3, 161.5], '#000', 3, [12, 12], 2),
      fitSet(fitD.solid, [-15.3, 161.5], '#000', 3, [], 1)
    ] },
  { row: 2, col: 0, tag: '(e)', xLim: [-58.2, 158.8], yLim: [-58.2, 158.8], ticks: ticksE,
    yTitle: titleParts('H', 'rns'), xTitle: titleParts('H', 'rep'),
    sets: [
      pointsSet(hMonthly, '#000', 'rectRot', 0, 15, 3.5, 20),
      fitSet(fitE.dashed, [-58.2, 158.8], '#000', 3, [12, 12], 2),
      fitSet(fitE.solid, [-58.2, 158.8], '#000', 3, [], 1)
    ] },
  { row: 2, col: 1, tag: '(f)', xLim: [-3.9, 103.9], yLim: [-3.9, 103.9], ticks: ticksF,
    yTitle: titleParts('\u03bbE', 'rns'), xTitle: titleParts('\u03bbE', 'rep'),
    sets: [
      pointsSet(leMonthly, '#000', 'rectRot', 0, 15, 3.5, 20),
      fitSet(fitF.dashed, [-3.9, 103.9], '#000', 3, [12, 12], 2),
      fitSet(fitF.solid, [-3.9, 103.9], '#000', 3, [], 1)
    ] }
];

const page = document.getElementById('page');

panels.forEach(p => {
  const col = COLS[p.col], row = ROWS[p.row];
  const cellW = col.cell[1] - col.cell[0];
  const cellH = row.cell[1] - row.cell[0];
  const canvas = document.createElement('canvas');
  canvas.width = cellW;
  canvas.height = cellH;
  canvas.style.left = col.cell[0] + 'px';
  canvas.style.top = row.cell[0] + 'px';
  canvas.style.width = cellW + 'px';
  canvas.style.height = cellH + 'px';
  page.appendChild(canvas);

  const yAxisW = col.area[0] - col.cell[0];
  const xAxisH = row.cell[1] - row.area[1];
  const tickSetter = s => { s.ticks = p.ticks.map(v => ({ value: v })); };

  const frame = {
    id: 'frame',
    afterDraw(chart) {
      const ctx = chart.ctx;
      const a = chart.chartArea;
      ctx.save();
      ctx.strokeStyle = '#000';
      ctx.lineWidth = 4;
      ctx.strokeRect(a.left, a.top, a.right - a.left, a.bottom - a.top);
      ctx.fillStyle = '#000';
      ctx.font = TICK_SIZE + 'px ' + FONT;
      ctx.textAlign = 'left';
      ctx.textBaseline = 'alphabetic';
      ctx.fillText(p.tag, a.left + 62, a.top + 113);
      ctx.restore();
      drawRich(ctx, p.yTitle, a.left - 151, (a.top + a.bottom) / 2, true);
      if (p.xTitle) drawRich(ctx, p.xTitle, (a.left + a.right) / 2, a.bottom + 211, false);
    }
  };

  new Chart(canvas, {
    type: 'scatter',
    data: { datasets: p.sets },
    options: {
      responsive: false,
      animation: false,
      devicePixelRatio: 1,
      events: [],
      layout: { padding: { left: 0, top: row.area[0] - row.cell[0], right: col.cell[1] - col.area[1], bottom: 0 } },
      plugins: { legend: { display: false }, tooltip: { enabled: false } },
      scales: {
        x: {
          type: 'linear', position: 'bottom', min: p.xLim[0], max: p.xLim[1],
          afterBuildTicks: tickSetter,
          afterFit: s => { s.height = xAxisH; },
          border: { display: false },
          grid: { display: true, drawOnChartArea: false, drawTicks: true, tickLength: TICK_LEN, tickWidth: 4, tickColor: '#000' },
          ticks: { autoSkip: false, maxRotation: 0, minRotation: 0, padding: 8, color: '#000',
                   font: { family: FONT, size: TICK_SIZE }, callback: v => String(v) }
        },
        y: {
          type: 'linear', position: 'left', min: p.yLim[0], max: p.yLim[1],
          afterBuildTicks: tickSetter,
          afterFit: s => { s.width = yAxisW; },
          border: { display: false },
          grid: { display: true, drawOnChartArea: false, drawTicks: true, tickLength: TICK_LEN, tickWidth: 4, tickColor: '#000' },
          ticks: { autoSkip: false, minRotation: 90, maxRotation: 90, crossAlign: 'center',
                   padding: yTickPadding(p.ticks), color: '#000',
                   font: { family: FONT, size: TICK_SIZE }, callback: v => String(v) }
        }
      }
    },
    plugins: [frame]
  });
});
</script>
</body>
</html>
